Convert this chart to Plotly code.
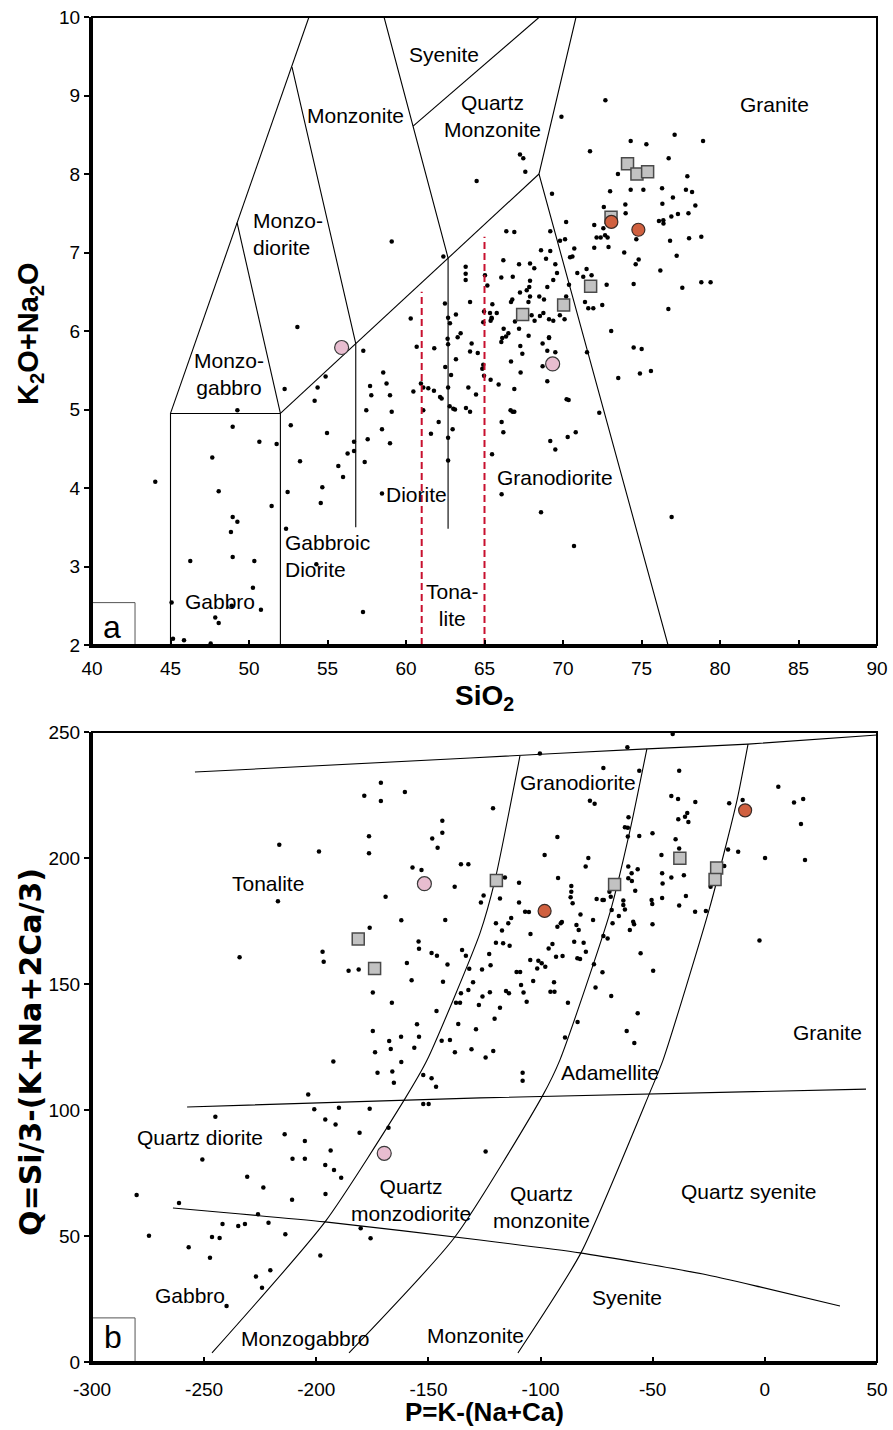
import plotly.graph_objects as go

# ---------------- Panel a : TAS (SiO2 vs K2O+Na2O) ----------------
a_dot_x = [59.09,62.38,64.5,63.8,63.8,63.8,64.08,62.48,60.3,62.68,63.18,62.8,63.48,63.29,53.08,
    72.7,69.9,71.72,74.31,75.31,77.11,78.92,76.73,67.26,67.47,67.6,73.5,77.92,69.3,73.0,74.31,75.12,
    76.31,77.0,77.83,78.22,78.43,76.33,73.97,73.99,72.6,76.9,77.32,77.99,76.11,76.39,76.4,70.2,71.99,
    66.39,66.9,69.19,72.57,72.14,72.4,72.68,72.84,69.81,70.13,72.9,74.67,76.82,78.03,78.81,71.99,70.72,
    68.6,69.19,73.9,68.92,69.51,70.45,70.6,66.2,67.2,67.9,68.17,77.24,74.82,74.63,69.62,69.38,70.91,
    71.29,71.5,71.82,66.07,66.8,67.9,67.85,67.26,67.69,70.38,72.78,76.2,78.81,79.4,74.5,77.6,66.69,
    66.77,67.8,67.9,68.49,68.79,69.0,70.2,71.4,71.61,71.93,72.5,76.71,65.35,65.78,65.46,66.22,66.13,
    66.52,66.94,67.2,67.81,68.0,68.19,68.53,68.75,69.11,69.38,69.11,73.07,69.8,70.1,
    65.03,65.18,64.97,65.5,65.45,65.39,64.92,
    44.03,49.26,48.96,50.66,51.76,47.66,48.07,51.44,48.96,49.26,48.85,46.26,48.96,50.34,50.25,45.07,
    48.9,50.76,47.85,48.07,45.16,45.86,47.56,52.27,52.66,52.46,52.36,53.25,54.18,54.37,54.88,54.97,
    54.67,54.57,54.29,55.69,55.99,56.28,56.69,56.69,57.28,57.47,57.56,57.37,57.71,57.79,57.26,58.55,
    58.76,58.98,59.09,58.47,58.98,58.47,60.47,60.68,60.95,61.1,61.42,61.1,61.59,61.8,61.78,62.17,
    62.27,62.08,62.5,62.65,62.68,62.87,62.68,62.78,63.01,63.12,62.68,62.97,62.68,63.18,63.82,63.97,
    64.08,64.18,64.08,64.46,64.57,
    64.92,64.86,64.97,65.39,65.9,66.07,66.37,66.69,67.28,67.41,67.3,66.9,66.66,66.79,66.9,66.09,66.2,
    65.48,66.09,68.7,69.11,69.0,69.51,68.7,69.0,70.23,70.36,69.19,69.51,70.3,70.81,68.6,70.7,71.53,
    72.31,73.52,74.5,75.01,74.9,75.6,76.92]
a_dot_y = [7.14,6.95,7.91,6.82,6.73,6.65,6.37,6.35,6.16,6.17,6.21,6.10,5.97,5.92,6.05,
    8.94,8.73,8.29,8.42,8.38,8.5,8.42,8.2,8.25,8.2,8.03,8.0,7.97,7.75,7.78,7.8,7.8,
    7.82,7.70,7.8,7.77,7.6,7.62,7.61,7.5,7.58,7.46,7.49,7.5,7.4,7.41,7.37,7.39,7.35,
    7.27,7.26,7.27,7.31,7.19,7.19,7.22,7.19,7.15,7.17,7.07,7.17,7.15,7.18,7.2,7.06,7.05,
    7.03,7.02,7.0,6.92,6.85,6.94,6.95,6.9,6.85,6.86,6.8,6.96,6.91,6.85,6.74,6.65,6.74,
    6.69,6.79,6.71,6.68,6.69,6.64,6.56,6.49,6.52,6.59,6.59,6.77,6.62,6.62,6.6,6.55,6.37,
    6.4,6.37,6.44,6.44,6.4,6.56,6.44,6.37,6.29,6.29,6.33,6.28,6.23,6.23,6.16,6.03,5.91,
    5.97,6.12,6.03,5.94,6.2,6.13,6.19,6.23,6.15,6.13,5.91,6.0,6.2,6.15,
    6.71,6.58,6.25,6.34,6.17,6.13,6.11,
    4.08,4.99,4.78,4.59,4.56,4.39,3.96,3.77,3.63,3.57,3.44,3.07,3.12,3.07,2.73,2.54,
    2.5,2.45,2.35,2.28,2.08,2.06,2.02,5.26,4.8,3.95,3.48,4.34,5.11,5.28,5.42,4.7,
    4.01,3.81,3.03,4.28,4.14,4.44,4.59,4.47,5.75,4.99,4.62,4.33,5.3,5.18,2.42,5.47,
    5.33,5.18,4.97,4.75,4.57,3.93,5.23,5.8,5.33,5.28,5.27,4.99,4.69,5.78,5.24,5.16,
    5.14,4.84,5.54,5.9,5.83,5.44,5.28,5.04,5.01,5.0,4.64,4.75,4.35,5.64,5.02,5.28,
    4.97,5.84,5.74,5.19,5.72,
    5.57,5.52,5.43,5.38,5.32,5.86,5.93,5.61,5.81,5.71,5.47,5.26,4.99,4.97,4.97,4.84,4.71,
    4.43,3.92,5.84,5.92,5.75,5.73,5.55,5.36,5.13,5.12,4.6,4.49,4.65,4.71,3.69,3.26,5.73,
    4.96,5.4,5.79,5.77,5.46,5.49,3.63]

a_sq_x = [74.11,74.71,75.39,73.06,71.76,70.04,67.43]
a_sq_y = [8.13,8.0,8.03,7.45,6.57,6.33,6.21]
a_red_x = [73.08,74.8]
a_red_y = [7.39,7.29]
a_pink_x = [55.9,69.34]
a_pink_y = [5.79,5.58]

# classification boundaries (panel a)
a_lines = [
    ([45,45,52,52],[2,4.95,4.95,2]),
    ([45,53.82],[4.95,10]),
    ([49.24,52],[7.38,4.95]),
    ([52.74,56.8,56.8],[9.36,5.84,3.5]),
    ([52,68.47],[4.95,8.0]),
    ([58.6,62.68,62.68],[10,6.93,3.48]),
    ([60.45,68.5],[8.61,10]),
    ([70.83,68.47,76.69],[10,8.0,2]),
]
a_dashed = [([61,61],[2,6.5]), ([65,65],[2,7.2])]

a_labels = ["Syenite","Monzonite","Quartz<br>Monzonite","Granite","Monzo-<br>diorite","Monzo-<br>gabbro",
            "Gabbro","Gabbroic<br>Diorite","Diorite","Tona-<br>lite","Granodiorite"]
a_lab_x = [62.4,56.8,65.5,83.5,50.13,48.73,48.15,52.17,60.64,62.93,69.5]
a_lab_y = [9.52,8.75,8.74,8.89,7.24,5.45,2.55,3.13,3.92,2.51,4.13]
a_lab_anchor = ["center","center","center","center","left","center","center","left","center","center","center"]

a_xticks = [40,45,50,55,60,65,70,75,80,85,90]
a_yticks = [2,3,4,5,6,7,8,9,10]

# ---------------- Panel b : P-Q diagram ----------------
b_dot_x = [-171.2,-178.6,-171.2,-160.5,-143.8,-143.8,-148.3,-145.9,-176.5,-176.5,-216.5,-198.8,-157.1,-153.1,
    -135.5,-132.2,-138.3,-217.1,-169.1,-162.1,-142.5,-176.2,-234.2,-197.2,-196.7,-185.6,-181.1,-154.4,
    -154.2,-148.6,-146.2,-159.6,-141.5,-135.0,-133.3,-131.8,-157.5,-143.5,-130.1,-174.8,-166.3,-135.5,
    -132.2,-137.7,-135.9,-127.5,-146.4,-174.8,-155.1,-136.7,-128.8,-162.2,-167.5,-166.8,-154.2,-156.3,
    -144.1,-140.4,-138.2,-130.8,-173.8,
    -41.1,-61.3,-100.3,-72.0,-56.0,-38.2,-121.2,-78.0,-75.9,-41.7,-38.7,-31.0,-15.9,-9.9,6.0,13.0,17.1,
    16.1,17.9,0.1,-2.4,-92.5,-98.2,-78.7,-79.9,-92.2,-109.6,-115.9,-125.4,-126.6,-118.1,-109.6,-106.9,
    -105.2,-119.9,-117.2,-114.4,-113.1,-104.5,-119.9,-116.7,-113.8,-122.9,-122.3,-126.1,-125.9,-122.6,
    -115.4,-114.1,-118.1,-120.5,-121.1,-124.5,-108.7,-107.6,-106.2,-103.3,-104.6,-101.0,-99.5,-97.9,
    -101.5,-96.4,-94.7,-93.8,-95.6,-94.0,-93.1,-90.2,-92.5,-91.0,-90.5,-87.8,-86.3,-86.3,-86.6,-85.7,
    -85.0,-83.6,-82.4,-84.0,-83.0,-82.2,-80.8,-79.8,-76.6,-75.0,-72.4,-71.8,-69.3,-68.7,-68.3,-76.2,
    -72.4,-75.5,-72.0,-70.1,-67.9,-65.1,-62.4,-68.5,-63.1,-63.1,-60.9,-60.9,-59.4,-56.7,-59.3,-61.1,
    -61.1,-62.4,-60.8,-56.0,-50.1,-57.8,-58.7,-60.2,-58.3,-55.4,-50.1,-50.5,-50.2,-49.8,-56.7,-61.6,
    -58.2,-46.1,-45.8,-45.6,-45.8,-41.7,-39.8,-38.2,-38.6,-35.6,-34.6,-34.1,-36.1,-38.2,-35.2,-31.1,
    -26.3,-18.1,-16.4,-11.9,-24.2,
    -83.5,-89.1,-110.7,-109.1,
    -192.4,-162.1,-172.7,-166.1,-165.4,-152.3,-148.6,-146.6,-152.3,-149.9,-203.6,-200.9,-189.9,-176.2,
    -245.0,-196.0,-191.4,-180.7,-214.1,-205.1,-167.8,-250.8,-210.6,-205.1,-193.6,-196.0,-192.1,-188.9,
    -230.8,-223.6,-280.1,-261.2,-210.8,-195.9,-226.0,-241.8,-234.8,-231.8,-221.3,-213.8,-274.6,-246.5,
    -243.1,-180.2,-175.8,-256.9,-247.4,-198.2,-220.5,-226.9,-224.2,-240.0,
    -108.0,-108.0,-124.5]
b_dot_y = [229.9,224.7,222.6,226.2,214.8,210.0,207.7,204.1,208.6,201.9,205.3,202.6,196.2,195.2,
    197.5,197.5,188.6,182.8,184.6,175.3,175.4,172.3,160.6,162.8,158.8,155.3,155.8,166.9,
    164.0,162.3,161.2,158.3,157.7,163.5,161.2,156.1,151.5,150.9,150.7,146.6,142.6,146.3,
    147.6,142.6,142.6,141.7,139.3,131.3,134.0,134.1,132.0,129.1,127.4,124.2,129.1,124.7,
    127.5,127.8,122.9,124.1,122.9,
    249.2,243.9,241.5,235.7,234.6,234.6,219.7,222.7,221.5,224.6,223.4,222.2,221.7,223.0,228.3,222.0,223.4,
    213.5,199.2,200.0,167.3,208.3,201.2,200.0,196.6,192.1,190.2,192.3,185.1,182.3,183.9,182.3,178.7,
    178.6,174.1,171.2,174.1,176.2,169.8,166.4,166.2,165.2,161.9,157.4,155.8,145.0,146.7,
    147.2,146.3,140.6,136.2,123.4,120.8,149.6,146.6,143.0,151.2,159.5,159.2,158.2,156.8,
    156.2,164.1,165.9,146.9,146.9,150.7,160.8,161.1,172.7,174.1,174.6,142.6,188.9,186.6,184.4,182.0,
    166.8,160.2,159.9,173.4,171.4,177.6,166.4,162.8,175.4,183.7,183.3,183.3,186.6,184.6,179.4,157.8,
    154.7,148.6,169.0,168.1,174.1,177.0,179.6,145.2,183.1,181.3,192.0,196.6,193.9,195.5,190.9,212.0,
    208.5,212.2,216.2,208.7,209.8,187.0,174.7,171.4,173.7,162.2,173.7,183.3,181.7,155.3,138.4,131.3,
    126.6,201.2,193.9,189.9,184.1,192.3,207.4,203.8,215.4,216.4,217.9,214.3,193.2,181.2,184.9,178.7,
    179.0,196.8,203.4,202.5,188.6,
    134.9,128.8,154.8,154.8,
    119.2,119.0,114.8,115.3,110.8,113.9,112.6,109.2,102.4,102.4,106.2,100.3,100.9,100.5,
    97.3,96.2,94.2,91.0,90.4,87.7,93.0,80.4,80.7,80.7,83.9,78.2,76.2,73.1,
    73.5,69.2,66.3,63.1,64.4,66.7,58.6,54.8,54.0,54.8,55.3,50.7,50.1,49.6,
    49.2,53.1,49.1,45.5,41.4,42.3,36.4,33.9,29.5,22.2,
    114.8,111.6,83.5]

b_sq_x = [-181.3,-174.0,-119.7,-67.0,-37.9,-21.5,-22.2]
b_sq_y = [167.9,156.2,191.1,189.5,199.9,196.0,191.5]
b_red_x = [-98.2,-8.8]
b_red_y = [179.0,218.9]
b_pink_x = [-151.8,-169.7]
b_pink_y = [189.8,82.8]

# classification boundaries (panel b)
b_lines = [
    ([-254.1,-131.5,-52.6,-7.5,50],[234.1,239.7,243.3,245.2,248.8]),
    ([-257.6,-127,45.1],[101.2,104.8,108.3]),
    ([-263.9,-196.1,-127,-82.4,-27.6,-2.2,33.5],[61.1,55.6,48.4,43.3,34.9,29.8,22.2]),
    ([-246.5,-196.1,-160.5,-150.6,-127,-120.3,-109.2],[3.6,55.6,104.4,119.8,170.2,191.3,240.5]),
    ([-185.4,-138.2,-98.9,-91.4,-69.1,-60.1,-52.6],[3.6,49.6,106,119.8,178.2,211.1,243.3]),
    ([-110.1,-82,-51.2,-45.4,-24.5,-12.4,-7.5],[3.6,43.3,107.1,119.8,180.6,223,245.2]),
]
b_labels = ["Tonalite","Granodiorite","Granite","Adamellite","Quartz diorite","Quartz<br>monzodiorite",
            "Quartz<br>monzonite","Quartz syenite","Syenite","Gabbro","Monzogabbro","Monzonite"]
b_lab_x = [-221.5,-83.3,28.1,-69,-251.9,-157.8,-99.4,-7.5,-61.5,-256.3,-205,-128.8]
b_lab_y = [190,229.8,130.6,114.7,88.9,64.3,61.5,67.5,25.4,26.2,9.5,10.7]

b_xticks = [-300,-250,-200,-150,-100,-50,0,50]
b_xticktext = ["-300","-250","-200","-150","-100","-50","0","50"]
b_yticks = [0,50,100,150,200,250]

FONT = "Liberation Sans, Arial, Helvetica, sans-serif"
fig = go.Figure()

def add_panel(xa, ya, lines, dot_x, dot_y, sq_x, sq_y, red_x, red_y, pink_x, pink_y):
    for lx, ly in lines:
        fig.add_trace(go.Scatter(x=lx, y=ly, mode="lines", xaxis=xa, yaxis=ya,
                                 line=dict(color="black", width=1.1, shape="spline" if ya == "y2" else "linear",
                                           smoothing=0.6),
                                 hoverinfo="skip", showlegend=False))
    fig.add_trace(go.Scatter(x=dot_x, y=dot_y, mode="markers", xaxis=xa, yaxis=ya,
                             marker=dict(size=4.5, color="black"), hoverinfo="skip", showlegend=False))
    fig.add_trace(go.Scatter(x=sq_x, y=sq_y, mode="markers", xaxis=xa, yaxis=ya,
                             marker=dict(symbol="square", size=12, color="#c2c2c2",
                                         line=dict(color="#4a4a4a", width=1.5)),
                             hoverinfo="skip", showlegend=False))
    fig.add_trace(go.Scatter(x=red_x, y=red_y, mode="markers", xaxis=xa, yaxis=ya,
                             marker=dict(symbol="circle", size=13, color="#d0603f",
                                         line=dict(color="#3a2a25", width=1.2)),
                             hoverinfo="skip", showlegend=False))
    fig.add_trace(go.Scatter(x=pink_x, y=pink_y, mode="markers", xaxis=xa, yaxis=ya,
                             marker=dict(symbol="circle", size=14, color="#e8bdd0",
                                         line=dict(color="#3a3a3a", width=1.2)),
                             hoverinfo="skip", showlegend=False))

add_panel("x", "y", a_lines, a_dot_x, a_dot_y, a_sq_x, a_sq_y, a_red_x, a_red_y, a_pink_x, a_pink_y)
for lx, ly in a_dashed:
    fig.add_trace(go.Scatter(x=lx, y=ly, mode="lines", xaxis="x", yaxis="y",
                             line=dict(color="#c8102e", width=2, dash="7px,4px"),
                             hoverinfo="skip", showlegend=False))
add_panel("x2", "y2", b_lines, b_dot_x, b_dot_y, b_sq_x, b_sq_y, b_red_x, b_red_y, b_pink_x, b_pink_y)

ann = []
for t, x, y, anc in zip(a_labels, a_lab_x, a_lab_y, a_lab_anchor):
    ann.append(dict(text=t, x=x, y=y, xref="x", yref="y", showarrow=False, xanchor=anc, yanchor="middle",
                    align="left" if anc == "left" else "center",
                    font=dict(family=FONT, size=21, color="black")))
for t, x, y in zip(b_labels, b_lab_x, b_lab_y):
    ann.append(dict(text=t, x=x, y=y, xref="x2", yref="y2", showarrow=False,
                    xanchor="center", yanchor="middle",
                    font=dict(family=FONT, size=21, color="black")))
# panel letters
ann.append(dict(text="a", x=41.25, y=2.23, xref="x", yref="y", showarrow=False,
                xanchor="center", yanchor="middle", font=dict(family=FONT, size=32, color="black")))
ann.append(dict(text="b", x=-290.5, y=9.8, xref="x2", yref="y2", showarrow=False,
                xanchor="center", yanchor="middle", font=dict(family=FONT, size=32, color="black")))
# axis titles
ann.append(dict(text="<b>SiO<sub>2</sub></b>", x=484 / 893, y=1 - 697 / 1430, xref="paper", yref="paper",
                xanchor="center", yanchor="middle",
                showarrow=False, font=dict(family=FONT, size=28, color="black")))
ann.append(dict(text="<b>P=K-(Na+Ca)</b>", x=484 / 893, y=1 - 1412 / 1430, xref="paper", yref="paper",
                xanchor="center", yanchor="middle",
                showarrow=False, font=dict(family=FONT, size=26, color="black")))
ann.append(dict(text="<b>K<sub>2</sub>O+Na<sub>2</sub>O</b>", x=30 / 893, y=1 - 334 / 1430,
                xref="paper", yref="paper", showarrow=False, textangle=-90,
                xanchor="center", yanchor="middle",
                font=dict(family=FONT, size=29, color="black")))
ann.append(dict(text="<b>Q=Si/3-(K+Na+2Ca/3)</b>", x=30 / 893, y=1 - 1052 / 1430,
                xref="paper", yref="paper", showarrow=False, textangle=-90,
                xanchor="center", yanchor="middle",
                font=dict(family="DejaVu Sans, Liberation Sans, sans-serif", size=30, color="black")))

shapes = [
    dict(type="rect", xref="x", yref="y", x0=40, x1=42.74, y0=2, y1=2.54,
         line=dict(color="#555555", width=1)),
    dict(type="rect", xref="x2", yref="y2", x0=-300, x1=-280.8, y0=0, y1=17.5,
         line=dict(color="#555555", width=1)),
    dict(type="rect", xref="x domain", yref="y domain", x0=0, x1=1, y0=0, y1=1,
         line=dict(color="black", width=2)),
    dict(type="rect", xref="x2 domain", yref="y2 domain", x0=0, x1=1, y0=0, y1=1,
         line=dict(color="black", width=2)),
]

xdom = [92 / 893, 877 / 893]
common_x = dict(showgrid=False, zeroline=False, showline=True, linecolor="black", linewidth=3,
                ticks="inside", ticklen=5, tickwidth=1.5, tickcolor="black", automargin=False,
                tickfont=dict(family=FONT, size=19, color="black"))
common_y = dict(showgrid=False, zeroline=False, showline=True, linecolor="black", linewidth=3,
                ticks="outside", ticklen=5, tickwidth=1.5, tickcolor="black", automargin=False,
                tickfont=dict(family=FONT, size=19, color="black"), ticklabelstandoff=0)

fig.update_layout(
    width=893, height=1430, margin=dict(l=0, r=0, t=0, b=0, autoexpand=False),
    paper_bgcolor="white", plot_bgcolor="white", showlegend=False,
    xaxis=dict(domain=xdom, range=[40, 90], anchor="y", tickvals=a_xticks, ticklabelstandoff=4, **common_x),
    yaxis=dict(domain=[1 - 645 / 1430, 1 - 17 / 1430], range=[2, 10], anchor="x", tickvals=a_yticks, **common_y),
    xaxis2=dict(domain=xdom, range=[-300, 50], anchor="y2", tickvals=b_xticks, ticktext=b_xticktext,
                ticklabelstandoff=8, **common_x),
    yaxis2=dict(domain=[1 - 1362 / 1430, 1 - 732 / 1430], range=[0, 250], anchor="x2", tickvals=b_yticks, **common_y),
    annotations=ann, shapes=shapes,
)

fig.write_html("out.html")
